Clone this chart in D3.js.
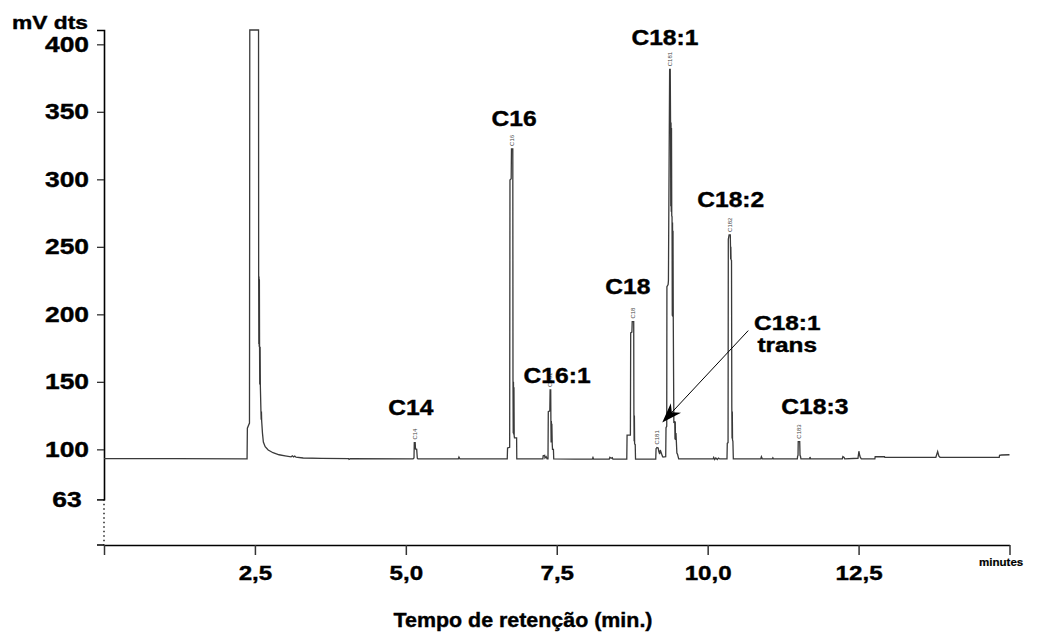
<!DOCTYPE html>
<html>
<head>
<meta charset="utf-8">
<script src="https://cdn.jsdelivr.net/npm/d3@7"></script>
<style>
body { margin: 0; background: #fff; }
text { font-family: "Liberation Sans", Arial, sans-serif; font-weight: bold; fill: #000; }
</style>
</head>
<body>
<div id="chart"></div>
<script>
// chromatogram trace, [minutes, mV]
var trace = [
  [0.00, 93.2], [1.20, 93.1], [2.37, 93.0], [2.375, 115.7], [2.41, 119.5],
  [2.415, 410.6], [2.56, 410.6], [2.562, 230.5], [2.565, 178], [2.568, 228],
  [2.571, 176], [2.574, 226], [2.577, 176], [2.58, 148], [2.586, 176],
  [2.59, 147], [2.60, 128], [2.604, 122], [2.608, 128], [2.612, 121],
  [2.625, 112], [2.64, 105.4], [2.67, 102], [2.72, 99.5], [2.80, 97.5],
  [2.90, 96], [3.00, 95.2], [3.10, 94.5], [3.12, 95.2], [3.14, 94.4],
  [3.16, 95], [3.18, 94.2], [3.30, 93.6], [3.60, 93.3], [4.05, 93.2],
  [4.06, 92.6], [4.08, 93.1], [5.12, 93.0], [5.135, 93.6], [5.14, 105],
  [5.155, 105], [5.16, 100.3], [5.18, 100], [5.19, 93.4], [5.20, 93.0],
  [5.87, 93.0], [5.88, 94.3], [5.895, 93.0], [6.68, 93.0], [6.685, 101],
  [6.72, 101.5], [6.725, 299.5], [6.745, 300.5], [6.75, 322.5], [6.772, 322.5],
  [6.775, 153], [6.779, 112], [6.783, 150], [6.787, 111], [6.791, 146],
  [6.795, 110], [6.80, 108.5], [6.835, 108.5], [6.838, 93.0], [7.27, 93.0],
  [7.275, 95.2], [7.30, 95.5], [7.305, 93.6], [7.325, 94.6], [7.34, 93.0],
  [7.355, 93.0], [7.36, 127.9], [7.385, 128.5], [7.39, 144], [7.40, 144],
  [7.403, 122], [7.407, 105], [7.411, 121], [7.415, 105.5], [7.419, 119],
  [7.425, 104], [7.43, 100], [7.445, 100], [7.45, 93.0], [7.80, 92.8],
  [8.09, 92.8], [8.10, 93.9], [8.11, 92.8], [8.37, 92.8], [8.38, 94.1],
  [8.40, 93.4], [8.42, 93.9], [8.43, 92.7], [8.66, 92.7], [8.665, 110.6],
  [8.72, 110.6], [8.725, 186.2], [8.745, 186.8], [8.75, 194.6], [8.775, 194.6],
  [8.778, 128], [8.782, 106], [8.786, 125], [8.79, 104], [8.80, 103.5],
  [8.805, 92.8], [9.14, 92.8], [9.145, 100.5], [9.16, 101.3], [9.18, 101],
  [9.19, 98.5], [9.205, 96.5], [9.215, 99.5], [9.25, 95], [9.26, 94.3],
  [9.305, 94.5], [9.31, 116], [9.322, 117], [9.325, 220.5], [9.345, 222],
  [9.35, 225], [9.37, 381.5], [9.38, 381.5], [9.385, 344], [9.389, 280],
  [9.393, 342], [9.397, 276], [9.401, 338], [9.405, 273], [9.41, 272.3],
  [9.414, 199], [9.418, 268], [9.422, 198.3], [9.426, 262], [9.43, 198],
  [9.44, 119.5], [9.455, 121], [9.459, 107.5], [9.463, 120.5], [9.467, 107],
  [9.475, 112], [9.49, 97.3], [9.50, 96.5], [9.52, 93.0], [10.09, 92.9],
  [10.10, 94], [10.115, 92.5], [10.135, 93.6], [10.16, 92.5], [10.18, 93.5],
  [10.20, 92.9], [10.32, 92.9], [10.325, 104.5], [10.338, 105], [10.342, 255.6],
  [10.355, 258.8], [10.375, 258.8], [10.378, 250.5], [10.381, 241], [10.384, 250],
  [10.387, 240.6], [10.395, 240], [10.40, 131.6], [10.404, 108], [10.408, 128],
  [10.412, 107], [10.418, 106], [10.425, 93.0], [10.88, 93.0], [10.89, 94.6],
  [10.905, 93.0], [11.07, 93.0], [11.08, 93.8], [11.09, 93.0], [11.485, 93.0],
  [11.49, 95], [11.497, 95.5], [11.50, 105.7], [11.525, 105.7], [11.53, 95.5],
  [11.537, 95], [11.545, 93.0], [11.69, 93.0], [11.695, 94.3], [11.705, 93.0],
  [12.23, 93.0], [12.24, 94.6], [12.26, 94.0], [12.27, 93.0], [12.49, 93.4],
  [12.505, 98.6], [12.52, 95.2], [12.53, 94.0], [12.545, 93.0], [12.77, 93.0],
  [12.775, 94.5], [12.93, 94.5], [12.935, 94.0], [13.78, 94.1], [13.81, 98.4],
  [13.83, 95.0], [13.85, 94.1], [14.83, 94.1], [14.835, 95.5], [14.87, 95.8],
  [15.00, 96.0]
];

var xTicks = [0, 2.5, 5, 7.5, 10, 12.5, 15];
var xTickLabels = ["", "2,5", "5,0", "7,5", "10,0", "12,5", ""];
var yTicks = [63, 100, 150, 200, 250, 300, 350, 400];

// named peaks (big labels)
var peakNames = ["C14", "C16", "C16:1", "C18", "C18:1", "C18:2", "C18:3"];
var peakTimes = [5.15, 6.76, 7.39, 8.76, 9.375, 10.365, 11.51];
var peakTops  = [105, 322.5, 144, 194.6, 381.5, 258.8, 105.7];

// small integration tags printed above each peak
var tagNames = ["C14", "C16", "C161", "C18", "C181", "C181", "C182", "C183"];
var tagTimes = [5.15, 6.76, 7.39, 8.76, 9.165, 9.375, 10.365, 11.51];
var tagTops  = [105, 322.5, 144, 194.6, 101.3, 381.5, 258.8, 105.7];

// trans isomer
var transName = ["C18:1", "trans"];
var transTime = 9.165, transTop = 101.3;

var W = 1040, H = 639;
var svg = d3.select("#chart").append("svg")
  .attr("width", W)
  .attr("height", H);

var x = d3.scaleLinear().domain([0, 15]).range([104, 1009.5]);
var y = d3.scaleLinear().domain([63, 410.6]).range([499.3, 30]);
var xAxisY = 545;

// stretched bold text like the original export
function label(g, txt, px, py, size, sx, anchor) {
  return g.append("text")
    .attr("transform", "translate(" + px + "," + py + ") scale(" + sx + ",1)")
    .attr("text-anchor", anchor || "middle")
    .style("font-size", size + "px")
    .style("stroke", "#000")
    .style("stroke-width", "0.4px")
    .text(txt);
}

// Y axis
var yAxis = svg.append("g")
  .attr("transform", "translate(" + x(0) + ",0)")
  .call(d3.axisLeft(y).tickValues(yTicks).tickSize(7).tickSizeOuter(7).tickFormat(d3.format("d")));
yAxis.select(".domain").attr("stroke", "#000").attr("stroke-width", 1.6);
yAxis.selectAll(".tick line").attr("stroke", "#333").attr("stroke-width", 1.3);
yAxis.selectAll(".tick text")
  .attr("x", 0).attr("dy", null).attr("y", 0)
  .attr("text-anchor", "middle")
  .attr("transform", "translate(-37,7) scale(1.2,1)")
  .style("font-size", "22px")
  .style("font-family", "'Liberation Sans', Arial, sans-serif")
  .style("font-weight", "bold")
  .style("stroke", "#000")
  .style("stroke-width", "0.4px")
  .attr("fill", "#000");

// dotted part of y axis below 63
svg.append("line")
  .attr("x1", x(0)).attr("x2", x(0))
  .attr("y1", y(63)).attr("y2", xAxisY)
  .attr("stroke", "#000").attr("stroke-width", 1.3)
  .attr("stroke-dasharray", "1.5,3");

// X axis
var xAxis = svg.append("g")
  .attr("transform", "translate(0," + xAxisY + ")")
  .call(d3.axisBottom(x).tickValues(xTicks).tickSize(10).tickSizeOuter(0)
    .tickFormat(function(d, i) { return xTickLabels[i]; }));
xAxis.select(".domain").attr("stroke", "#000").attr("stroke-width", 1.5);
xAxis.selectAll(".tick line").attr("stroke", "#333").attr("stroke-width", 1.5);
xAxis.selectAll(".tick text")
  .attr("y", 35).attr("dy", null)
  .attr("transform", "scale(1.15,1)")
  .style("font-size", "21px")
  .style("font-family", "'Liberation Sans', Arial, sans-serif")
  .style("font-weight", "bold")
  .style("stroke", "#000")
  .style("stroke-width", "0.4px")
  .attr("fill", "#000");
svg.append("line")
  .attr("x1", x(0) - 7).attr("x2", x(0))
  .attr("y1", xAxisY).attr("y2", xAxisY)
  .attr("stroke", "#000").attr("stroke-width", 1.5);

// axis titles
label(svg, "mV dts", 12, 29, 19, 1.2, "start");
label(svg, "minutes", 979, 566, 11, 1.05, "start").style("stroke-width", "0.2px");
label(svg, "Tempo de retenção (min.)", 523, 627, 21, 1.02);

// trace
var line = d3.line()
  .x(function(d) { return x(d[0]); })
  .y(function(d) { return y(d[1]); });
svg.append("path")
  .datum(trace)
  .attr("fill", "none")
  .attr("stroke", "#3a3a3a")
  .attr("stroke-width", 1.3)
  .attr("stroke-linejoin", "miter")
  .attr("d", line);

// little rotated integration tags
tagNames.forEach(function(n, i) {
  var px = x(tagTimes[i]) + 2, py = y(tagTops[i]) - 3;
  svg.append("text")
    .attr("transform", "translate(" + px + "," + py + ") rotate(-90)")
    .attr("text-anchor", "start")
    .style("font-size", "6px")
    .style("font-weight", "normal")
    .style("fill", "#444")
    .text(n);
});

// peak labels, offset from each peak top
var labelOffsets = [[-4, -28], [2, -23], [7, -7], [-5, -28], [-5, -24], [1, -28], [16, -28]];
peakNames.forEach(function(n, i) {
  label(svg, n, x(peakTimes[i]) + labelOffsets[i][0], y(peakTops[i]) + labelOffsets[i][1], 22, 1.12);
});

// trans label, two lines, + arrow
var tx = x(transTime), ty = y(transTop);
transName.forEach(function(n, i) {
  label(svg, n, tx + 130, ty - 118 + i * 22.5, 20, 1.22);
});

var tip = [tx + 5, ty - 25], tail = [tx + 91, ty - 117];
var ang = Math.atan2(tail[1] - tip[1], tail[0] - tip[0]);
var headLen = 20, headHalf = 7;
function pt(dist, side) {
  return [tip[0] + dist * Math.cos(ang) - side * Math.sin(ang),
          tip[1] + dist * Math.sin(ang) + side * Math.cos(ang)];
}
svg.append("line")
  .attr("x1", tail[0]).attr("y1", tail[1])
  .attr("x2", pt(12, 0)[0]).attr("y2", pt(12, 0)[1])
  .attr("stroke", "#000").attr("stroke-width", 1);
svg.append("path")
  .attr("d", "M" + tip + "L" + pt(headLen, headHalf) + "L" + pt(headLen * 0.7, 0) + "L" + pt(headLen, -headHalf) + "Z")
  .attr("fill", "#000");
</script>
</body>
</html>
